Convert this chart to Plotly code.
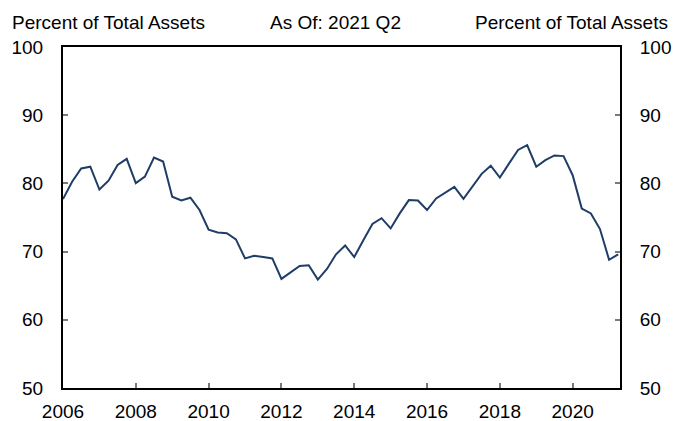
import plotly.graph_objects as go

# Quarterly share of total assets, 2006 Q1 through 2021 Q2
start_year = 2006
quarters_count = 62
share_pct = [
    77.7, 80.25, 82.2, 82.45,
    79.1, 80.4, 82.7, 83.6,
    80.05, 81.0, 83.8, 83.2,
    78.05, 77.5, 77.9, 76.1,
    73.2, 72.8, 72.7, 71.8,
    69.0, 69.4, 69.2, 69.0,
    66.0, 66.95, 67.9, 68.0,
    65.9, 67.45, 69.6, 70.9,
    69.2, 71.65, 74.05, 74.9,
    73.4, 75.6, 77.55, 77.5,
    76.1, 77.8, 78.6, 79.5,
    77.75, 79.5, 81.4, 82.6,
    80.85, 82.9, 84.9, 85.6,
    82.45, 83.4, 84.1, 84.0,
    81.2, 76.3, 75.6, 73.3,
    68.8, 69.6,
]
x_years = [start_year + i / 4 for i in range(quarters_count)]
year_ticks = [2006, 2008, 2010, 2012, 2014, 2016, 2018, 2020]
pct_ticks = [50, 60, 70, 80, 90, 100]

FONT = "Arial, Liberation Sans, sans-serif"
FSIZE = 19
LINE = "#1f3d66"

fig = go.Figure()
fig.add_trace(go.Scatter(x=x_years, y=share_pct, mode="lines",
                         line=dict(color=LINE, width=2), showlegend=False,
                         hoverinfo="x+y"))
# invisible trace to carry the right-hand axis
fig.add_trace(go.Scatter(x=[x_years[0]], y=[share_pct[0]], yaxis="y2",
                         mode="lines", line=dict(width=0), showlegend=False,
                         hoverinfo="skip"))

axis_common = dict(showgrid=False, zeroline=False, ticks="inside", ticklen=5,
                   tickwidth=1.5, tickcolor="#7a7a7a", showline=True,
                   linecolor="black", linewidth=2, automargin=False,
                   tickfont=dict(family=FONT, size=FSIZE, color="black"))

title_font = dict(family=FONT, size=FSIZE, color="black")

fig.update_layout(
    width=673, height=421,
    margin=dict(l=63, r=53, t=47, b=33),
    paper_bgcolor="white", plot_bgcolor="white",
    xaxis=dict(range=[2006, 2021.3], tickvals=year_ticks,
               ticktext=[str(y) for y in year_ticks], mirror=True,
               ticklabelstandoff=5, **axis_common),
    yaxis=dict(range=[50, 100], tickvals=pct_ticks, side="left",
               ticklabelstandoff=14, **axis_common),
    yaxis2=dict(range=[50, 100], tickvals=pct_ticks, side="right",
                overlaying="y", ticklabelstandoff=14, **axis_common),
    annotations=[
        dict(text="Percent of Total Assets", x=0, y=1, xref="paper", yref="paper",
             xanchor="left", yanchor="middle", xshift=-53, yshift=25,
             showarrow=False, font=title_font),
        dict(text="As Of: 2021 Q2", x=0.5, y=1, xref="paper", yref="paper",
             xanchor="center", yanchor="middle", xshift=-6, yshift=25,
             showarrow=False, font=title_font),
        dict(text="Percent of Total Assets", x=1, y=1, xref="paper", yref="paper",
             xanchor="right", yanchor="middle", xshift=50, yshift=25,
             showarrow=False, font=title_font),
    ],
)

fig.write_html("out.html")
